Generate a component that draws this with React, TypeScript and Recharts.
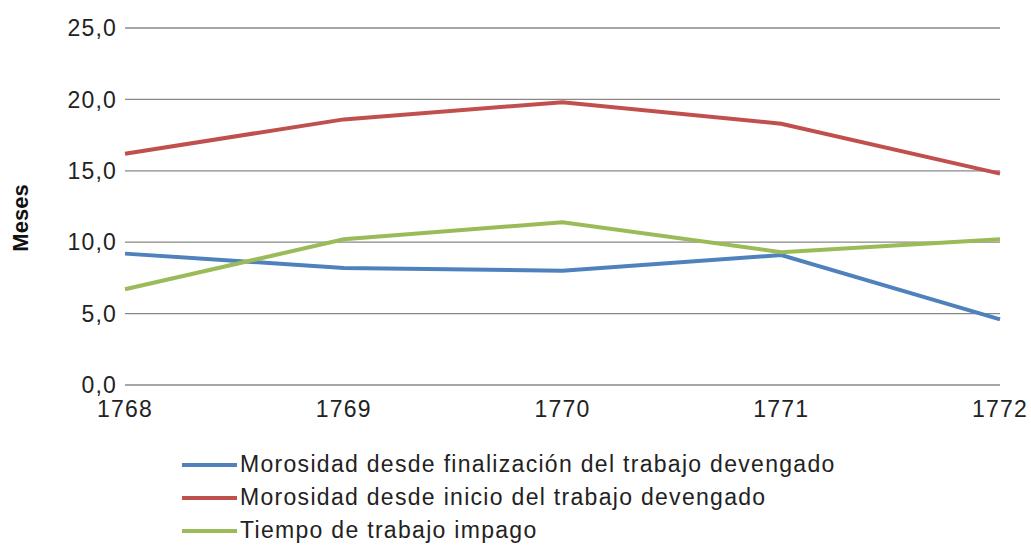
import { LineChart, Line, XAxis, YAxis, CartesianGrid, Legend } from "recharts";

const years = ["1768", "1769", "1770", "1771", "1772"];
const finalizacion = [9.2, 8.2, 8.0, 9.1, 4.6];
const inicio = [16.2, 18.6, 19.8, 18.3, 14.8];
const impago = [6.7, 10.2, 11.4, 9.3, 10.2];
const yTicks = [0, 5, 10, 15, 20, 25];

const series = [
  { key: "finalizacion", name: "Morosidad desde finalización del trabajo devengado", color: "#4f81bd" },
  { key: "inicio", name: "Morosidad desde inicio del trabajo devengado", color: "#c0504d" },
  { key: "impago", name: "Tiempo de trabajo impago", color: "#9bbb59" },
];

const data = years.map((year, i) => ({
  year,
  finalizacion: finalizacion[i],
  inicio: inicio[i],
  impago: impago[i],
}));

const font = "'Liberation Sans', Arial, sans-serif";
const tickStyle = { fill: "#222", fontSize: 23, fontFamily: font, letterSpacing: 1.2 };

function LegendBox() {
  return (
    <div style={{ fontFamily: font, fontSize: 23, color: "#222", letterSpacing: 1.3, whiteSpace: "nowrap" }}>
      {series.map((s) => (
        <div key={s.key} style={{ display: "flex", alignItems: "center", height: 33 }}>
          <div style={{ width: 55, height: 4, background: s.color, marginRight: 3 }} />
          <span>{s.name}</span>
        </div>
      ))}
    </div>
  );
}

export default function App() {
  return (
    <div style={{ position: "absolute", left: 0, top: 0, width: 1031, height: 554, background: "#fff" }}>
      <LineChart width={1031} height={554} data={data} margin={{ top: 28, right: 31, left: 0, bottom: 139 }}>
        <CartesianGrid vertical={false} stroke="#888" strokeWidth={1.3} />
        <XAxis
          dataKey="year"
          height={30}
          interval={0}
          tickLine={false}
          axisLine={false}
          tickMargin={10}
          tick={tickStyle}
        />
        <YAxis
          width={125}
          domain={[0, 25]}
          ticks={yTicks}
          tickLine={false}
          axisLine={false}
          tickMargin={2}
          tickFormatter={(v: number) => v.toFixed(1).replace(".", ",")}
          tick={tickStyle}
          label={{
            content: () => (
              <text
                x={28}
                y={218}
                transform="rotate(-90, 28, 218)"
                textAnchor="middle"
                fontFamily={font}
                fontSize={22}
                fontWeight="bold"
                fill="#111"
              >
                Meses
              </text>
            ),
          }}
        />
        <Legend
          layout="vertical"
          align="center"
          verticalAlign="middle"
          wrapperStyle={{ left: 182, top: 448, width: "auto" }}
          content={() => <LegendBox />}
        />
        {series.map((s) => (
          <Line
            key={s.key}
            type="linear"
            dataKey={s.key}
            name={s.name}
            stroke={s.color}
            strokeWidth={4}
            dot={false}
            isAnimationActive={false}
          />
        ))}
      </LineChart>
    </div>
  );
}
